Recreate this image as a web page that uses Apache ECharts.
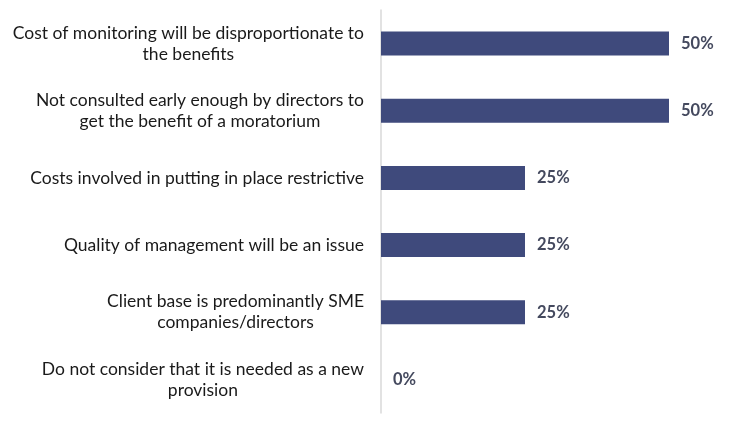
<!DOCTYPE html>
<html>
<head>
<meta charset="utf-8">
<script src="https://cdn.jsdelivr.net/npm/echarts@6/dist/echarts.min.js"></script>
<style>
  html, body { margin: 0; padding: 0; background: #fff; }
  #chart { width: 750px; height: 423px; }
</style>
</head>
<body>
<div id="chart"></div>
<script>
// categories, top to bottom
const categories = [
  "Cost of monitoring will be disproportionate to\nthe benefits",
  "Not consulted early enough by directors to\nget the benefit of a moratorium",
  "Costs involved in putting in place restrictive",
  "Quality of management will be an issue",
  "Client base is predominantly SME\ncompanies/directors",
  "Do not consider that it is needed as a new\nprovision"
];
const shares = [50, 50, 25, 25, 25, 0];

const chart = echarts.init(document.getElementById("chart"));

chart.setOption({
  animation: false,
  grid: { left: 381, top: 10, width: 288, height: 403 },
  xAxis: {
    type: "value",
    min: 0,
    max: 50,
    show: false
  },
  yAxis: {
    type: "category",
    data: categories,
    inverse: true,
    axisLine: { show: true, lineStyle: { color: "#D9D9D9", width: 1.5 } },
    axisTick: { show: false },
    axisLabel: {
      margin: 17,
      fontFamily: "Lato",
      fontSize: 17.5,
      color: "#1a1a1a",
      lineHeight: 21,
      formatter: (v) => v.split("\n").map((s) => "{c|" + s + "}").join("\n"),
      rich: { c: { align: "center", fontFamily: "Lato", fontSize: 17.5, color: "#1a1a1a", lineHeight: 21 } }
    }
  },
  series: [{
    type: "bar",
    data: shares,
    barWidth: 24,
    itemStyle: { color: "#3F4A7C" },
    label: {
      show: true,
      position: "right",
      distance: 12,
      formatter: "{c}%",
      fontFamily: "Lato",
      fontWeight: "bold",
      fontSize: 16.5,
      color: "#44495E"
    }
  }]
});
</script>
</body>
</html>
